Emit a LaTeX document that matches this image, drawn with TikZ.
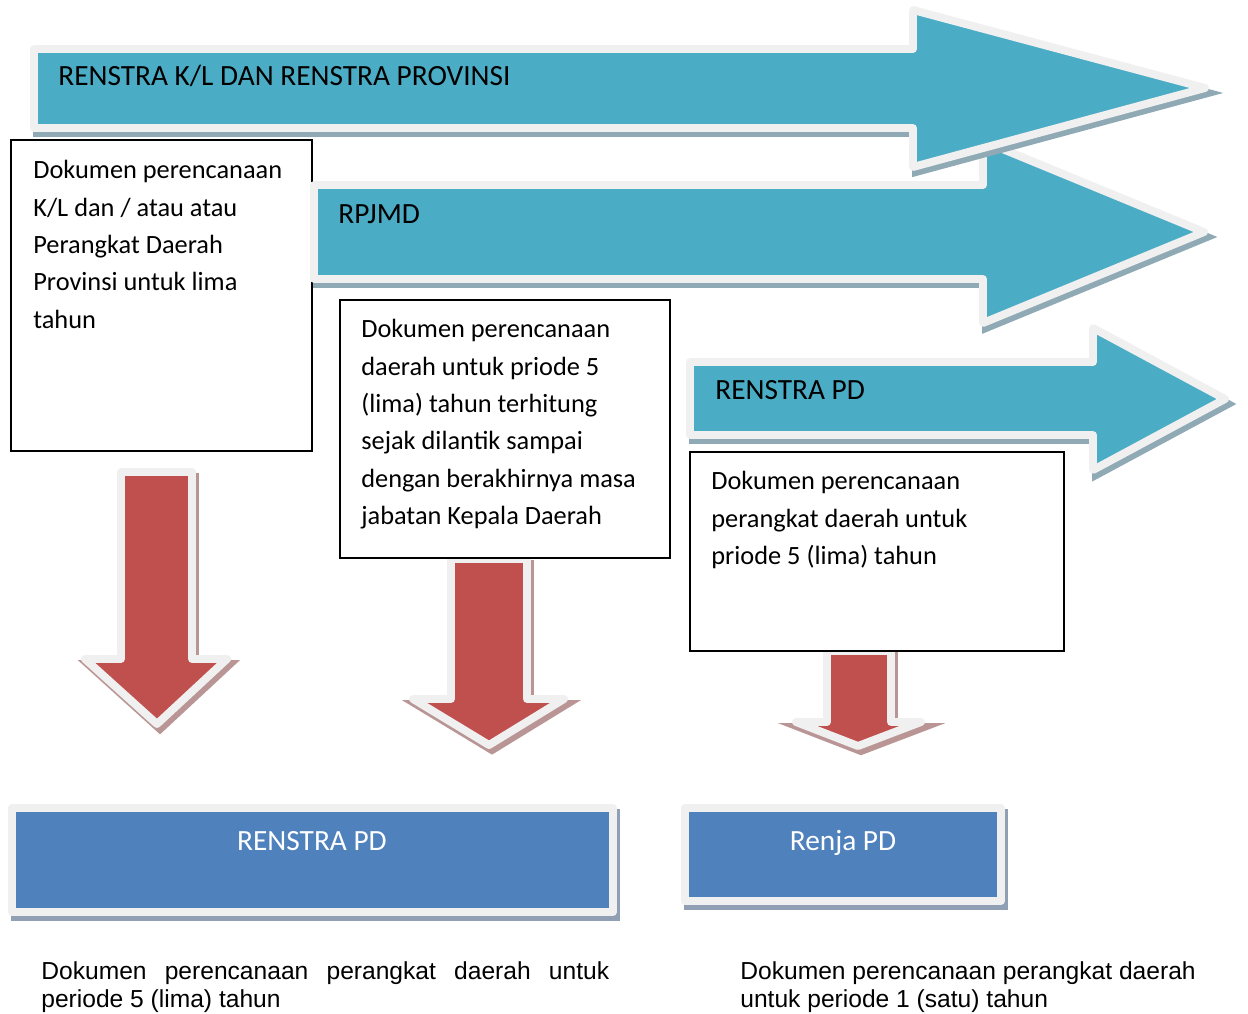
\documentclass[tikz,border=0pt]{standalone}
\usepackage{fontspec}
\setmainfont{Carlito}
\newfontfamily\arialfont{Liberation Sans}
\usetikzlibrary{positioning}
\definecolor{arrowblue}{HTML}{4BACC6}
\definecolor{arrowshade}{HTML}{8FAAB4}
\definecolor{rimgray}{HTML}{F0F0F0}
\definecolor{downred}{HTML}{C0504D}
\definecolor{redshade}{HTML}{BA9595}
\definecolor{boxblue}{HTML}{4F81BD}
\definecolor{boxshade}{HTML}{909FB4}
\def\rimwidth{4.5pt}
\newcommand\notefont{\fontsize{15}{21.3}\selectfont}
\newcommand\labelfont{\fontsize{16.7}{20}\selectfont}
\newcommand\footfont{\arialfont\fontsize{14}{16.4}\selectfont\hyphenpenalty=10000}
\tikzset{rim shadow/.style={preaction={draw=#1, fill=#1, line width=\rimwidth, line join=miter, transform canvas={xshift=0.06cm, yshift=-0.1cm}}}}
\tikzstyle{rim}=[draw=rimgray, line width=\rimwidth, line join=round]
\tikzstyle{blue arrow}=[rim, fill=arrowblue, rim shadow=arrowshade]
\tikzstyle{red arrow}=[rim, fill=downred, rim shadow=redshade]
\tikzstyle{plan box}=[rim, fill=boxblue, rim shadow=boxshade]
\tikzstyle{note box}=[draw=black, fill=white, line width=1.1pt]
\tikzstyle{note text}=[anchor=north west, align=left, inner sep=0pt, font=\notefont]
\tikzstyle{arrow label}=[anchor=base west, inner sep=0pt, font=\labelfont]
\tikzstyle{box label}=[anchor=base, inner sep=0pt, font=\labelfont, text=white]
\tikzstyle{foot text}=[anchor=north west, inner sep=0pt, font=\footfont]

\begin{document}
\begin{tikzpicture}[x=0.02cm, y=-0.02cm]
  \useasboundingbox (0,0) rectangle (1248,1014);
  % red arrows down
  \draw[red arrow] (121,472) -- (192,472) -- (192,659) -- (227,659) -- (157,724) -- (85,659) -- (121,659) -- cycle;
  \draw[red arrow] (451,559) -- (527,559) -- (527,699) -- (564,699) -- (489,745) -- (413,699) -- (451,699) -- cycle;
  \draw[red arrow] (827,651) -- (891,651) -- (891,722) -- (921,722) -- (858,746) -- (796,722) -- (827,722) -- cycle;
  % notes
  \draw[note box] (11,140) rectangle (312,451);
  \node[note text] (kl note) at (33,160) {Dokumen perencanaan\\K/L dan / atau atau\\Perangkat Daerah\\Provinsi untuk lima\\tahun};
  \draw[note box] (340,300) rectangle (670,558);
  \node[note text] (rpjmd note) at (361,319) {Dokumen perencanaan\\daerah untuk priode 5\\(lima) tahun terhitung\\sejak dilantik sampai\\dengan berakhirnya masa\\jabatan Kepala Daerah};
  \draw[note box] (690,452) rectangle (1064,651);
  \node[note text] (pd note) at (711,471) {Dokumen perencanaan\\perangkat daerah untuk\\priode 5 (lima) tahun};
  % blue arrows right
  \draw[blue arrow] (690,362) -- (1093,362) -- (1093,328) -- (1225,399) -- (1093,470) -- (1093,435) -- (690,435) -- cycle;
  \node[arrow label] (pd) at (715,399) {RENSTRA PD};
  \draw[blue arrow] (314,185) -- (983,185) -- (983,141) -- (1204,232) -- (983,323) -- (983,279) -- (314,279) -- cycle;
  \node[arrow label] (rpjmd) at (338,223) {RPJMD};
  \draw[blue arrow] (34,49) -- (913,49) -- (913,10) -- (1205,88) -- (913,167) -- (913,128) -- (34,128) -- cycle;
  \node[arrow label] (kl) at (58,85) {RENSTRA K/L DAN RENSTRA PROVINSI};
  % results
  \draw[plan box] (12,808) rectangle (613,912);
  \node[box label] (renstra) at (312,850) {RENSTRA PD};
  \draw[plan box] (685,808) rectangle (1001,901);
  \node[box label] (renja) at (843,850) {Renja PD};
  \node[foot text, text width=11.36cm, align=justify] (renstra foot) at (41,961) {Dokumen perencanaan perangkat daerah untuk periode 5 (lima) tahun};
  \node[foot text, align=left] (renja foot) at (740,961) {Dokumen perencanaan perangkat daerah\\untuk periode 1 (satu) tahun};
\end{tikzpicture}
\end{document}
